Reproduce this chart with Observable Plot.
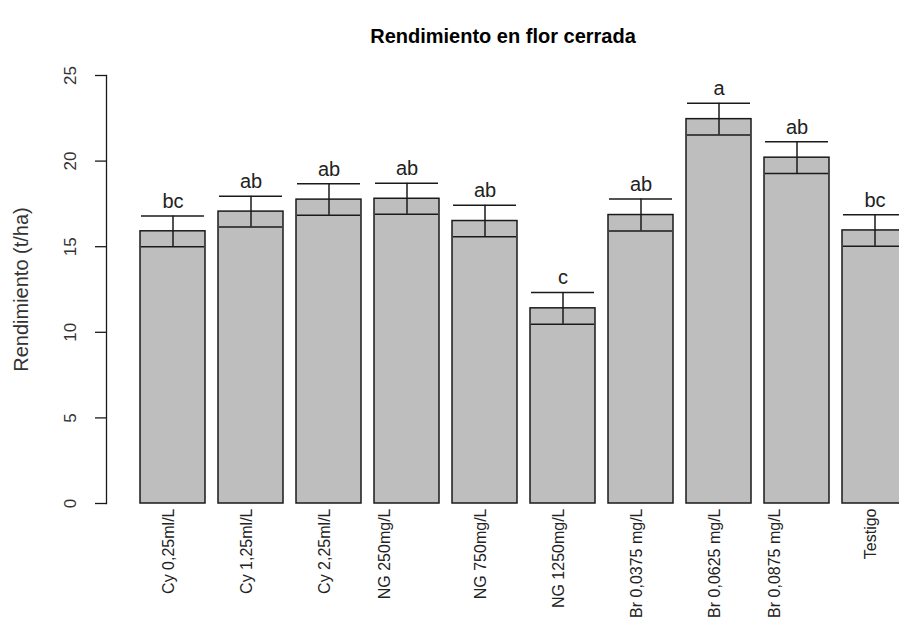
<!DOCTYPE html>
<html>
<head>
<meta charset="utf-8">
<script src="https://cdn.jsdelivr.net/npm/d3@7"></script>
<script src="https://cdn.jsdelivr.net/npm/@observablehq/plot@0.6"></script>
<style>
  html, body { margin: 0; padding: 0; background: white; overflow: hidden; }
  #wrap { position: relative; width: 899px; height: 620px; font-family: "Liberation Sans", Arial, sans-serif; }
  #title { position: absolute; left: 503px; top: 24px; transform: translateX(-50%); white-space: nowrap;
           font-weight: bold; font-size: 20px; color: #000; line-height: 24px; }
  #chart { position: absolute; left: 0; top: 0; }
</style>
</head>
<body>
<div id="wrap">
  <div id="chart"></div>
  <div id="title">Rendimiento en flor cerrada</div>
</div>
<script>
const categories = ["Cy 0,25ml/L", "Cy 1,25ml/L", "Cy 2,25ml/L", "NG 250mg/L", "NG 750mg/L",
                    "NG 1250mg/L", "Br 0,0375 mg/L", "Br 0,0625 mg/L", "Br 0,0875 mg/L", "Testigo"];
const means = [15.9, 17.05, 17.75, 17.8, 16.5, 11.4, 16.85, 22.45, 20.2, 15.95];
const stdErr = [0.9, 0.9, 0.92, 0.9, 0.92, 0.93, 0.93, 0.93, 0.93, 0.92];
const letters = ["bc", "ab", "ab", "ab", "ab", "c", "ab", "a", "ab", "bc"];
const yTicks = [0, 5, 10, 15, 20, 25];
const yLabel = "Rendimiento (t/ha)";
// labels that were drawn off-centre in the original (multi-line names)
const offsetLabels = ["NG 250mg/L", "Br 0,0875 mg/L"];

const data = categories.map((c, i) => ({
  cat: c, mean: means[i], lo: means[i] - stdErr[i], hi: means[i] + stdErr[i], letter: letters[i]
}));

const font = "Liberation Sans, Arial, sans-serif";

const chart = Plot.plot({
  width: 899,
  height: 620,
  marginTop: 75,
  marginBottom: 117,
  marginLeft: 106,
  marginRight: 0,
  style: {fontFamily: font, overflow: "hidden", background: "white"},
  x: {type: "band", domain: categories, range: [138, 909], paddingInner: 0.2 / 1.2, paddingOuter: 0, axis: null},
  y: {domain: [0, 25], axis: null},
  marks: [
    Plot.barY(data, {x: "cat", y: "mean", fill: "#bebebe", stroke: "#1a1a1a", strokeWidth: 1.5}),
    Plot.ruleX(data, {x: "cat", y1: "lo", y2: "hi", stroke: "#1a1a1a", strokeWidth: 1.5}),
    Plot.tickY(data, {x: "cat", y: "lo", stroke: "#1a1a1a", strokeWidth: 1.5, insetLeft: 1, insetRight: 1}),
    Plot.tickY(data, {x: "cat", y: "hi", stroke: "#1a1a1a", strokeWidth: 1.5, insetLeft: 1, insetRight: 1}),
    Plot.text(data, {x: "cat", y: "hi", text: "letter", dy: -8, lineAnchor: "bottom", fontSize: 20, fill: "#222"}),
    // y axis
    Plot.frame({anchor: "left", stroke: "#1a1a1a", strokeWidth: 1.3}),
    Plot.axisY(yTicks, {tickSize: 11, tickFormat: () => "", label: null, stroke: "#1a1a1a", strokeWidth: 1.3}),
    Plot.text(yTicks, {y: d => d, text: d => String(d), rotate: -90, frameAnchor: "left", dx: -36,
                       textAnchor: "middle", lineAnchor: "middle", fontSize: 17, fill: "#333"}),
    Plot.text([yLabel], {text: d => d, rotate: -90, frameAnchor: "left", dx: -85,
                         textAnchor: "middle", lineAnchor: "middle", fontSize: 20, fill: "#333"}),
    // x labels
    Plot.text(categories.filter(c => !offsetLabels.includes(c)),
      {x: d => d, text: d => d, rotate: -90, textAnchor: "end", lineAnchor: "middle", frameAnchor: "bottom",
       dy: 5, dx: -4, fontSize: 16, fill: "#222"}),
    Plot.text(categories.filter(c => offsetLabels.includes(c)),
      {x: d => d, text: d => d, rotate: -90, textAnchor: "end", lineAnchor: "middle", frameAnchor: "bottom",
       dy: 5, dx: -22, fontSize: 16, fill: "#222"})
  ]
});
document.getElementById("chart").appendChild(chart);
</script>
</body>
</html>
